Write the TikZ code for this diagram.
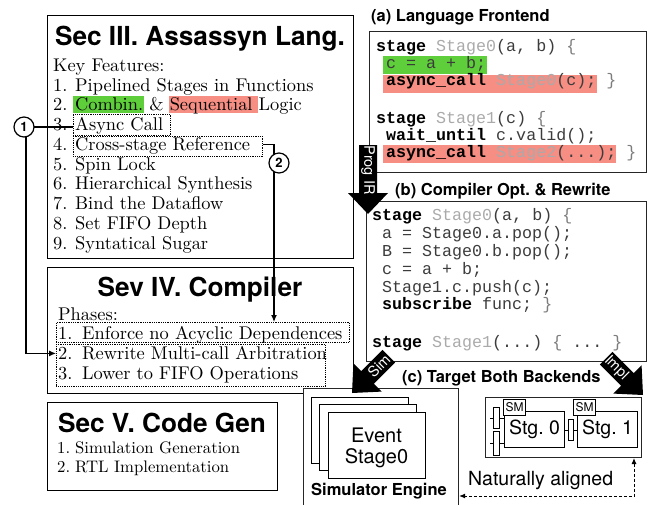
\documentclass[tikz,border=0pt]{standalone}
\usepackage{fontspec}
\setmainfont{lmroman10-regular}[Extension=.otf]
\newfontfamily\hv{TeX Gyre Heros}
\newfontfamily\mono{Liberation Mono}
\usetikzlibrary{arrows.meta}
\frenchspacing
\definecolor{hlgreen}{RGB}{94,206,58}
\definecolor{hlred}{RGB}{246,142,132}
\definecolor{idgray}{RGB}{170,170,170}
\definecolor{brgray}{RGB}{125,125,125}
\definecolor{codeink}{RGB}{60,60,60}
\newcommand\fs[1]{\fontsize{#1}{#1}\selectfont}
\newcommand\kw[1]{\textbf{\color{black}#1}}
\newcommand\idn[1]{{\color{idgray}#1}}
\newcommand\brc[1]{{\color{brgray}#1}}

\begin{document}
\begin{tikzpicture}[x=1pt,y=-1pt,
  secbox/.style={draw, line width=1.1pt, anchor=north west, inner sep=0pt},
  panel/.style={draw=black!85, line width=1pt, anchor=north west, inner sep=0pt},
  dotbox/.style={draw, densely dotted, line width=0.8pt, anchor=north west, inner sep=0pt},
  sectitle/.style={font=\hv\bfseries\fs{26.2}, anchor=base, inner sep=0pt},
  body/.style={font=\fs{18.4}, anchor=base west, inner sep=0pt},
  smallbody/.style={font=\fs{16.7}, anchor=base west, inner sep=0pt},
  code/.style={font=\mono\fs{16.67}, anchor=base west, inner sep=0pt, text=codeink},
  subtitle/.style={font=\hv\bfseries\fs{16.5}, anchor=base west, inner sep=0pt},
  marker/.style={circle, draw, line width=1.2pt, fill=white, minimum size=20pt, inner sep=0pt, font=\hv\bfseries\fs{13}},
  link/.style={line width=1.2pt},
  tip/.style={-{Latex[length=7pt,width=6pt]}},
  arrowtext/.style={text=white, font=\hv\fs{14.5}, inner sep=0pt},
  fifo/.style={draw, line width=0.8pt, anchor=north west, inner sep=0pt, fill=white},
  stagebox/.style={draw, line width=1pt, fill=white, anchor=north west, inner sep=0pt}]
\useasboundingbox (0,0) rectangle (648,504);

% ---------- Section III: language features ----------
\node[secbox, minimum width=306pt, minimum height=243pt] (sec3) at (47,15) {};
\node[sectitle] (sec3t) at (200,45) {Sec III. Assassyn Lang.};
\fill[hlgreen] (73,96) rectangle (144,113);
\fill[hlred] (169,96) rectangle (258,113);
\node[body] (keyf) at (53,71) {Key Features:};
\foreach \t [count=\i] in {Pipelined Stages in Functions, {Combin. \& Sequential Logic},
    Async Call, Cross-stage Reference, Spin Lock, Hierarchical Synthesis,
    Bind the Dataflow, Set FIFO Depth, Syntatical Sugar} {
  \node[body] (kn\i) at (53,{91+19.75*(\i-1)}) {\i.};
  \node[body] (kf\i) at (75,{91+19.75*(\i-1)}) {\t};
}
\node[dotbox, minimum width=97pt, minimum height=21pt] (async) at (73,114) {};
\node[dotbox, minimum width=189pt, minimum height=20pt] (cross) at (73,136) {};

% ---------- Section IV: compiler phases ----------
\node[secbox, minimum width=306pt, minimum height=126pt] (sec4) at (47,267) {};
\node[sectitle] (sec4t) at (200,296) {Sev IV. Compiler};
\node[body] (phases) at (58,320) {Phases:};
\node[dotbox, minimum width=293pt, minimum height=20pt] (enf) at (56,322) {};
\node[dotbox, minimum width=269pt, minimum height=42pt] (rew) at (56,344) {};
\foreach \t [count=\i] in {Enforce no Acyclic Dependences, Rewrite Multi-call Arbitration,
    Lower to FIFO Operations} {
  \node[body] (pn\i) at (58,{339.5+19.8*(\i-1)}) {\i.};
  \node[body] (pf\i) at (82,{339.5+19.8*(\i-1)}) {\t};
}

% ---------- Section V: code generation ----------
\node[secbox, minimum width=230pt, minimum height=88pt] (sec5) at (47,402) {};
\node[sectitle] (sec5t) at (162,432) {Sec V. Code Gen};
\node[smallbody] (gn1) at (57,453) {1.};
\node[smallbody] (gf1) at (75,453) {Simulation Generation};
\node[smallbody] (gn2) at (57,472) {2.};
\node[smallbody] (gf2) at (75,472) {RTL Implementation};

% ---------- cross references ----------
\coordinate (lane1) at (26,127);
\draw[link] (lane1) -- (lane1 -| async.west);
\draw[link, tip] (lane1) |- ([yshift=12pt]rew.west);
\node[marker] (c1) at (24,127) {1};
\coordinate (lane2) at (274,163);
\draw[link, tip] ([yshift=2pt]cross.east) -| (lane2) -- (lane2 |- enf.north);
\node[marker] (c2) at (279,163) {2};

% ---------- (a) language frontend ----------
\node[subtitle] (ta) at (371,21) {(a) Language Frontend};
\node[panel, minimum width=277pt, minimum height=141pt] (boxa) at (369,31) {};
\fill[hlgreen] (383,56) rectangle (487,74);
\fill[hlred] (383,75) rectangle (597,93);
\fill[hlred] (383,145) rectangle (616,163);
\node[code] (a1) at (376,51) {\kw{stage} \idn{Stage0}(a, b) \brc{\{}};
\node[code] (a2) at (386,68) {c = a + b;};
\node[code] (a3) at (386,85) {\kw{async\_call} \idn{Stage0}(c); \brc{\}}};
\node[code] (a5) at (376,123) {\kw{stage} \idn{Stage1}(c) \brc{\{}};
\node[code] (a6) at (386,140) {\kw{wait\_until} c.valid();};
\node[code] (a7) at (386,157) {\kw{async\_call} \idn{Stage2}(...); \brc{\}}};

% ---------- (b) compiler rewrite ----------
\node[subtitle] (tb) at (395,195) {(b) Compiler Opt. \& Rewrite};
\node[panel, minimum width=280pt, minimum height=160pt] (boxb) at (366,201) {};
\node[code] (b1) at (372,220) {\kw{stage} \idn{Stage0}(a, b) \brc{\{}};
\node[code] (b2) at (382,238) {a = Stage0.a.pop();};
\node[code] (b3) at (382,256) {B = Stage0.b.pop();};
\node[code] (b4) at (382,274) {c = a + b;};
\node[code] (b5) at (382,292) {Stage1.c.push(c);};
\node[code] (b6) at (382,309) {\kw{subscribe} func; \brc{\}}};
\node[code] (b8) at (372,347) {\kw{stage} \idn{Stage1}(...) \brc{\{} ... \brc{\}}};

% ---------- (c) simulator backend ----------
\node[panel, fill=white, line width=1.1pt, minimum width=155pt, minimum height=125pt] (simbox) at (303,388) {};
\node[stagebox, minimum width=97pt, minimum height=66pt] (ev1) at (311,397) {};
\node[stagebox, minimum width=97pt, minimum height=66pt] (ev2) at (319,404) {};
\node[stagebox, minimum width=97pt, minimum height=66pt] (ev3) at (328,412) {};
\node[font=\hv\fs{20}, anchor=base, inner sep=0pt] (evt) at (376.5,442) {Event};
\node[font=\hv\fs{20}, anchor=base, inner sep=0pt] (evs) at (376.5,463) {Stage0};
\node[subtitle, anchor=base] (simlbl) at (379,495) {Simulator Engine};
\node[subtitle] (tc) at (402,382) {(c) Target Both Backends};

% ---------- (c) hardware backend ----------
\node[panel, minimum width=156pt, minimum height=60pt] (impl) at (485,397) {};
\node[stagebox, minimum width=60pt, minimum height=36pt, font=\hv\fs{19.5}] (s0) at (504,411) {Stg. 0};
\node[stagebox, minimum width=60pt, minimum height=36pt, font=\hv\fs{19.5}] (s1) at (577,411) {Stg. 1};
\node[stagebox, minimum width=22pt, minimum height=16pt, font=\hv\fs{12}] (sm0) at (503,399) {SM};
\node[stagebox, minimum width=22pt, minimum height=16pt, font=\hv\fs{12}] (sm1) at (573,399) {SM};
\node[fifo, minimum width=6pt, minimum height=21pt] (f1) at (493,407) {};
\node[fifo, minimum width=6pt, minimum height=24pt] (f2) at (493,431) {};
\node[fifo, minimum width=5pt, minimum height=21pt] (f3) at (568,419) {};
\draw[line width=0.8pt] (f1.west) -- ++(-3,0);
\draw[line width=0.8pt] (f1.east) -- (f1.east -| s0.west);
\draw[line width=0.8pt] (f2.west) -- ++(-3,0);
\draw[line width=0.8pt] (f2.east) -- (f2.east -| s0.west);
\draw[line width=0.8pt] (f3.west) -- (f3.west -| s0.east);
\draw[line width=0.8pt] (f3.east) -- (f3.east -| s1.west);

% ---------- alignment between the two backends ----------
\coordinate (na) at (634,496);
\draw[line width=1pt, densely dashed, {Latex[length=6pt,width=5pt]}-{Latex[length=6pt,width=5pt]}]
  (impl.south -| na) -- (na) -- (na -| simbox.east);
\node[font=\hv\fs{19.5}, anchor=base west, inner sep=0pt] (natl) at (468,485) {Naturally aligned};

% ---------- block arrows between stages ----------
\begin{scope}[shift={(368,214)}, rotate=-90]
  \fill (0,0) -- (-21,20) -- (-21,9) -- (-69,9) -- (-69,-9) -- (-21,-9) -- (-21,-20) -- cycle;
  \node[arrowtext, rotate=-90] (progir) at (-44,0) {Prog IR};
\end{scope}
\begin{scope}[shift={(352,393)}, rotate=225]
  \fill (0,0) -- (-22,20) -- (-22,9) -- (-52,9) -- (-52,-9) -- (-22,-9) -- (-22,-20) -- cycle;
  \node[arrowtext, rotate=45] (simtxt) at (-38,0) {Sim};
\end{scope}
\begin{scope}[shift={(643,395)}, rotate=-45]
  \fill (0,0) -- (-22,20) -- (-22,9) -- (-52,9) -- (-52,-9) -- (-22,-9) -- (-22,-20) -- cycle;
  \node[arrowtext, rotate=-45] (impltxt) at (-38,0) {Impl};
\end{scope}
\end{tikzpicture}
\end{document}
